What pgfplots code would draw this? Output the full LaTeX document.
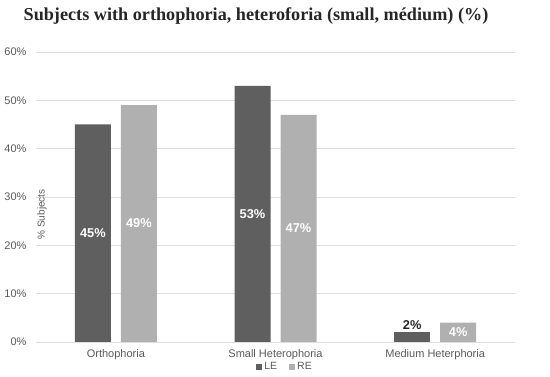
\documentclass[border=0pt]{standalone}
\usepackage{pgfplots}
\pgfplotsset{compat=1.18}
\usepackage{fontspec}
\setmainfont{Liberation Sans}
\newfontfamily\titlefont{Liberation Serif}
\definecolor{le}{RGB}{95,95,95}
\definecolor{re}{RGB}{176,176,176}
\definecolor{tickc}{RGB}{89,89,89}
\definecolor{gridc}{RGB}{222,222,222}
\begin{document}
\begin{tikzpicture}
\useasboundingbox (0,0) rectangle (550pt,377pt);
\node[font=\titlefont\bfseries\fontsize{18.2}{22}\selectfont, text=black!85] at (256pt,361pt) {Subjects with orthophoria, heteroforia (small, médium) (\%)};
\begin{axis}[
  at={(36pt,35pt)}, anchor=south west, scale only axis,
  width=479pt, height=290pt,
  ymin=0, ymax=60, xmin=-0.5, xmax=2.5,
  ybar, bar width=36pt,
  ytick={0,10,...,60},
  yticklabel={\pgfmathprintnumber{\tick}\%},
  ymajorgrids, grid style={gridc, line width=0.6pt},
  xtick={0,1,2},
  xticklabels={Orthophoria, Small Heterophoria, Medium Heterphoria},
  axis line style={draw=none},
  major tick length=0pt,
  tick label style={font=\fontsize{11}{13}\selectfont, text=tickc},
  yticklabel style={xshift=-6pt},
  xticklabel style={yshift=-4pt},
  /pgf/number format/assume math mode=true,
  legend style={at={(0.52,-0.086)}, anchor=center, draw=none, fill=none,
    legend columns=2, font=\fontsize{10.5}{12}\selectfont, text=tickc,
    /tikz/every even column/.append style={column sep=10pt}},
  legend image code/.code={\fill[#1] (0pt,-3pt) rectangle (6pt,3pt);},
  visualization depends on={rawy \as \rawy},
]
\addplot[fill=le, draw=none, bar shift=-23pt,
  nodes near coords={\pgfmathprintnumber{\pgfplotspointmeta}\%},
  every node near coord/.append style={anchor=center, text=white, font=\bfseries\fontsize{12.8}{14}\selectfont, yshift={-\rawy*2.41667pt}}]
  coordinates {(0,45) (1,53)};
\addlegendentry{LE}
\addplot[fill=re, draw=none, bar shift=23pt,
  nodes near coords={\pgfmathprintnumber{\pgfplotspointmeta}\%},
  every node near coord/.append style={anchor=center, text=white, font=\bfseries\fontsize{12.8}{14}\selectfont, yshift={-\rawy*2.41667pt}}]
  coordinates {(0,49) (1,47) (2,4)};
\addlegendentry{RE}
\addplot[fill=le, draw=none, bar shift=-23pt, forget plot,
  nodes near coords={\pgfmathprintnumber{\pgfplotspointmeta}\%},
  every node near coord/.append style={anchor=south, text=black!85, font=\bfseries\fontsize{12.8}{14}\selectfont, yshift=-1pt}]
  coordinates {(2,2)};
\draw[black!25, line width=0.7pt] (axis cs:-0.5,0) -- (axis cs:2.5,0);
\node[rotate=90, font=\fontsize{10}{12}\selectfont, text=tickc] at (rel axis cs:0.0125,0.44) {\% Subjects};
\end{axis}
\end{tikzpicture}
\end{document}
